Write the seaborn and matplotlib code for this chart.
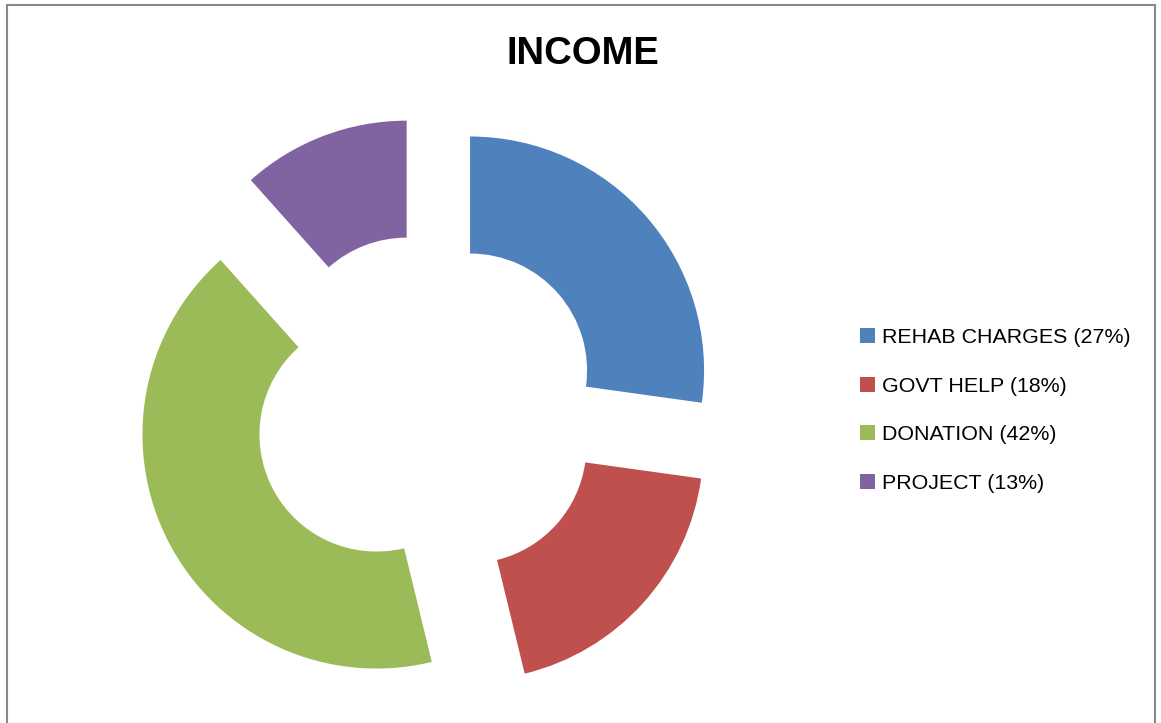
import matplotlib
matplotlib.use('Agg')
from matplotlib import pyplot as plt
from matplotlib.patches import Patch, Rectangle
import seaborn as sns

sns.set_theme(style='white')
plt.rcParams['font.family'] = ['Liberation Sans', 'DejaVu Sans']

categories = ['REHAB CHARGES', 'GOVT HELP', 'DONATION', 'PROJECT']
# slice sizes; the legend text keeps its own typed percentages
shares = [27.2, 19.0, 42.2, 11.6]
label_pct = [27, 18, 42, 13]
colors = sns.color_palette(['#4F81BD', '#C0504D', '#9BBB59', '#8064A2'])

fig = plt.figure(figsize=(11.61, 7.23), dpi=100)
fig.patch.set_facecolor('white')

# square axes in pixels so the donut stays round
ax = fig.add_axes([127 / 1161, 15 / 723, 600 / 1161, 600 / 723])
ax.pie(
    shares,
    colors=colors,
    startangle=90,
    counterclock=False,
    explode=[0.244] * len(shares),
    radius=1,
    wedgeprops=dict(width=0.5, linewidth=0),
)
lim = 300 / 234
ax.set_xlim(-lim, lim)
ax.set_ylim(-lim, lim)
ax.set_aspect('equal')
ax.axis('off')

fig.text(582.5 / 1161, 1 - 54 / 723, 'INCOME', ha='center', va='center',
         fontsize=27.5, fontweight='bold', color='black')

handles = [Patch(facecolor=c, edgecolor='none') for c in colors]
labels = [f'{c} ({p}%)' for c, p in zip(categories, label_pct)]
leg = fig.legend(
    handles, labels,
    loc='center left',
    bbox_to_anchor=(860 / 1161, 1 - 410.5 / 723),
    frameon=False,
    fontsize=15.4,
    handlelength=0.7,
    handleheight=0.7,
    handletextpad=0.33,
    labelspacing=1.39,
    borderpad=0,
    borderaxespad=0,
)
for t in leg.get_texts():
    t.set_color('black')

# thin grey frame around the chart area
fig.patches.append(Rectangle(
    (6.5 / 1161, -0.05), (1155 - 6.5) / 1161, 1.05 - 5.5 / 723,
    transform=fig.transFigure, fill=False, edgecolor='#898989', linewidth=1.5,
))

fig.savefig('out.png', dpi=100)
